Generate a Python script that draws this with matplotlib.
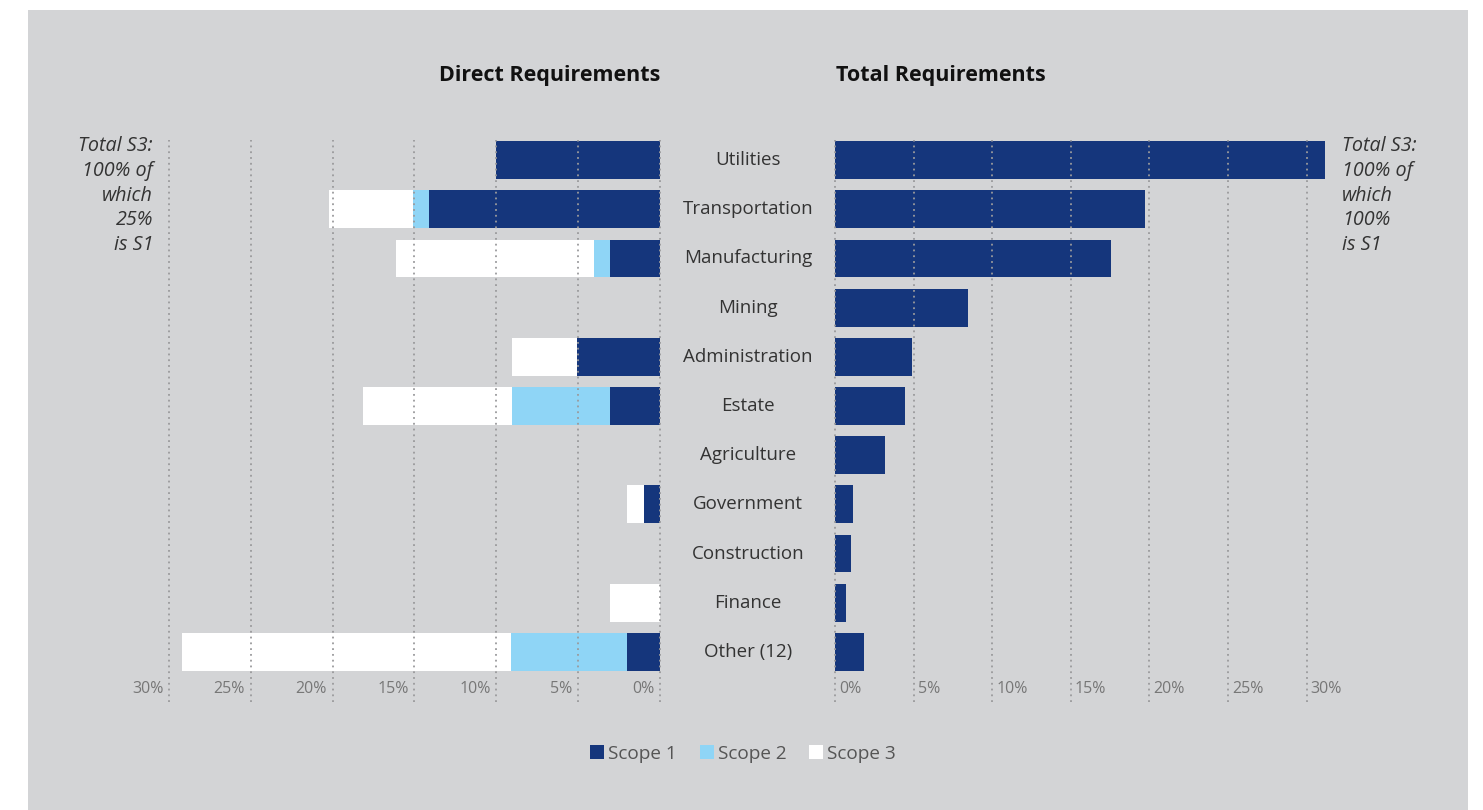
import matplotlib
matplotlib.use("Agg")
import matplotlib.pyplot as plt
import matplotlib.transforms as mtrans
from matplotlib.patches import Rectangle, Patch
import numpy as np

plt.rcParams['font.family'] = ['Open Sans', 'DejaVu Sans']

categories = ["Utilities", "Transportation", "Manufacturing", "Mining", "Administration",
              "Estate", "Agriculture", "Government", "Construction", "Finance", "Other (12)"]

# Direct requirements (%), by scope
direct_s1 = [10.0, 14.1, 3.05, 0.0, 5.06, 3.05, 0.0, 1.0, 0.0, 0.0, 2.0]
direct_s2 = [0.0, 1.0, 1.0, 0.0, 0.0, 6.0, 0.0, 0.0, 0.0, 0.0, 7.1]
direct_s3 = [0.0, 5.1, 12.1, 0.0, 4.0, 9.1, 0.0, 1.0, 0.0, 3.05, 20.1]

# Total requirements (%), scope 1
total_s1 = [31.2, 19.7, 17.55, 8.45, 4.9, 4.45, 3.15, 1.15, 1.0, 0.7, 1.85]

tick_values = [0, 5, 10, 15, 20, 25, 30]
tick_labels = ["0%", "5%", "10%", "15%", "20%", "25%", "30%"]
legend_labels = ["Scope 1", "Scope 2", "Scope 3"]

NAVY = "#15367c"
LIGHT = "#8fd5f6"
WHITE = "#ffffff"
BG = "#d3d4d6"
GRID = "#9a9a9c"

W, H = 1483, 810
fig = plt.figure(figsize=(W / 100, H / 100), dpi=100)
fig.patch.set_facecolor("white")
fig.add_artist(Rectangle((28 / W, 0), 1440 / W, 800 / H, transform=fig.transFigure,
                         facecolor=BG, edgecolor="none", zorder=0))

def px_axes(x0, x1, y0, y1):
    return fig.add_axes([x0 / W, 1 - y1 / H, (x1 - x0) / W, (y1 - y0) / H])

y = np.arange(len(categories))
bh = 0.77
ylim = (11.02, -0.41)

# Left axes (Direct)
axL = px_axes(169, 660, 140, 702)
axL.set_facecolor("none")
s1 = np.array(direct_s1); s2 = np.array(direct_s2); s3 = np.array(direct_s3)
axL.barh(y, s1, height=bh, color=NAVY, zorder=2)
axL.barh(y, s2, left=s1, height=bh, color=LIGHT, zorder=2)
axL.barh(y, s3, left=s1 + s2, height=bh, color=WHITE, zorder=2)
axL.set_xlim(30, 0)
axL.set_ylim(*ylim)

# Right axes (Total)
axR = px_axes(835, 835 + 491, 140, 702)
axR.set_facecolor("none")
axR.barh(y, total_s1, height=bh, color=NAVY, zorder=2)
axR.set_xlim(0, 31.24)
axR.set_ylim(*ylim)

for ax in (axL, axR):
    for s in ax.spines.values():
        s.set_visible(False)
    ax.set_xticks(tick_values)
    ax.set_yticks([])
    ax.tick_params(axis="x", length=0, labelbottom=False)
    ax.grid(axis="x", linestyle=(0, (1, 2.2)), color=GRID, linewidth=1.3, zorder=3)
    ax.set_axisbelow(False)
    for gl in ax.get_xgridlines():
        gl.set_clip_on(False)

for v, lab in zip(tick_values, tick_labels):
    axL.text(v + 0.35, 10.75, lab, ha="right", va="center", fontsize=11.5, color="#777777")
    axR.text(v + 0.25, 10.75, lab, ha="left", va="center", fontsize=11.5, color="#777777")

# Category labels (centered in the gap between the panels)
tr = mtrans.blended_transform_factory(fig.transFigure, axL.transData)
for yi, c in zip(y, categories):
    fig.text(748 / W, yi, c, transform=tr, ha="center", va="center",
             fontsize=13.5, color="#333333")

# Titles
fig.text(660 / W, 1 - 76 / H, "Direct Requirements", ha="right", va="center",
         fontsize=15.5, fontweight="bold", color="#111111")
fig.text(836 / W, 1 - 76 / H, "Total Requirements", ha="left", va="center",
         fontsize=15.5, fontweight="bold", color="#111111")

# Side notes
fig.text(153 / W, 1 - 136 / H, "Total S3:\n100% of\nwhich\n25%\nis S1", ha="right", va="top",
         fontsize=14.2, style="italic", color="#333333", linespacing=1.32)
fig.text(1342 / W, 1 - 136 / H, "Total S3:\n100% of\nwhich\n100%\nis S1", ha="left", va="top",
         fontsize=14.2, style="italic", color="#333333", linespacing=1.32)

handles = [Patch(facecolor=NAVY), Patch(facecolor=LIGHT), Patch(facecolor=WHITE)]
fig.legend(handles, legend_labels, loc="center", bbox_to_anchor=(743 / W, 1 - 754 / H),
           ncol=3, frameon=False, fontsize=13.7, labelcolor="#555555",
           handlelength=0.75, handleheight=0.75, handletextpad=0.2, columnspacing=1.2)

fig.savefig("out.png", dpi=100, facecolor=fig.get_facecolor())
